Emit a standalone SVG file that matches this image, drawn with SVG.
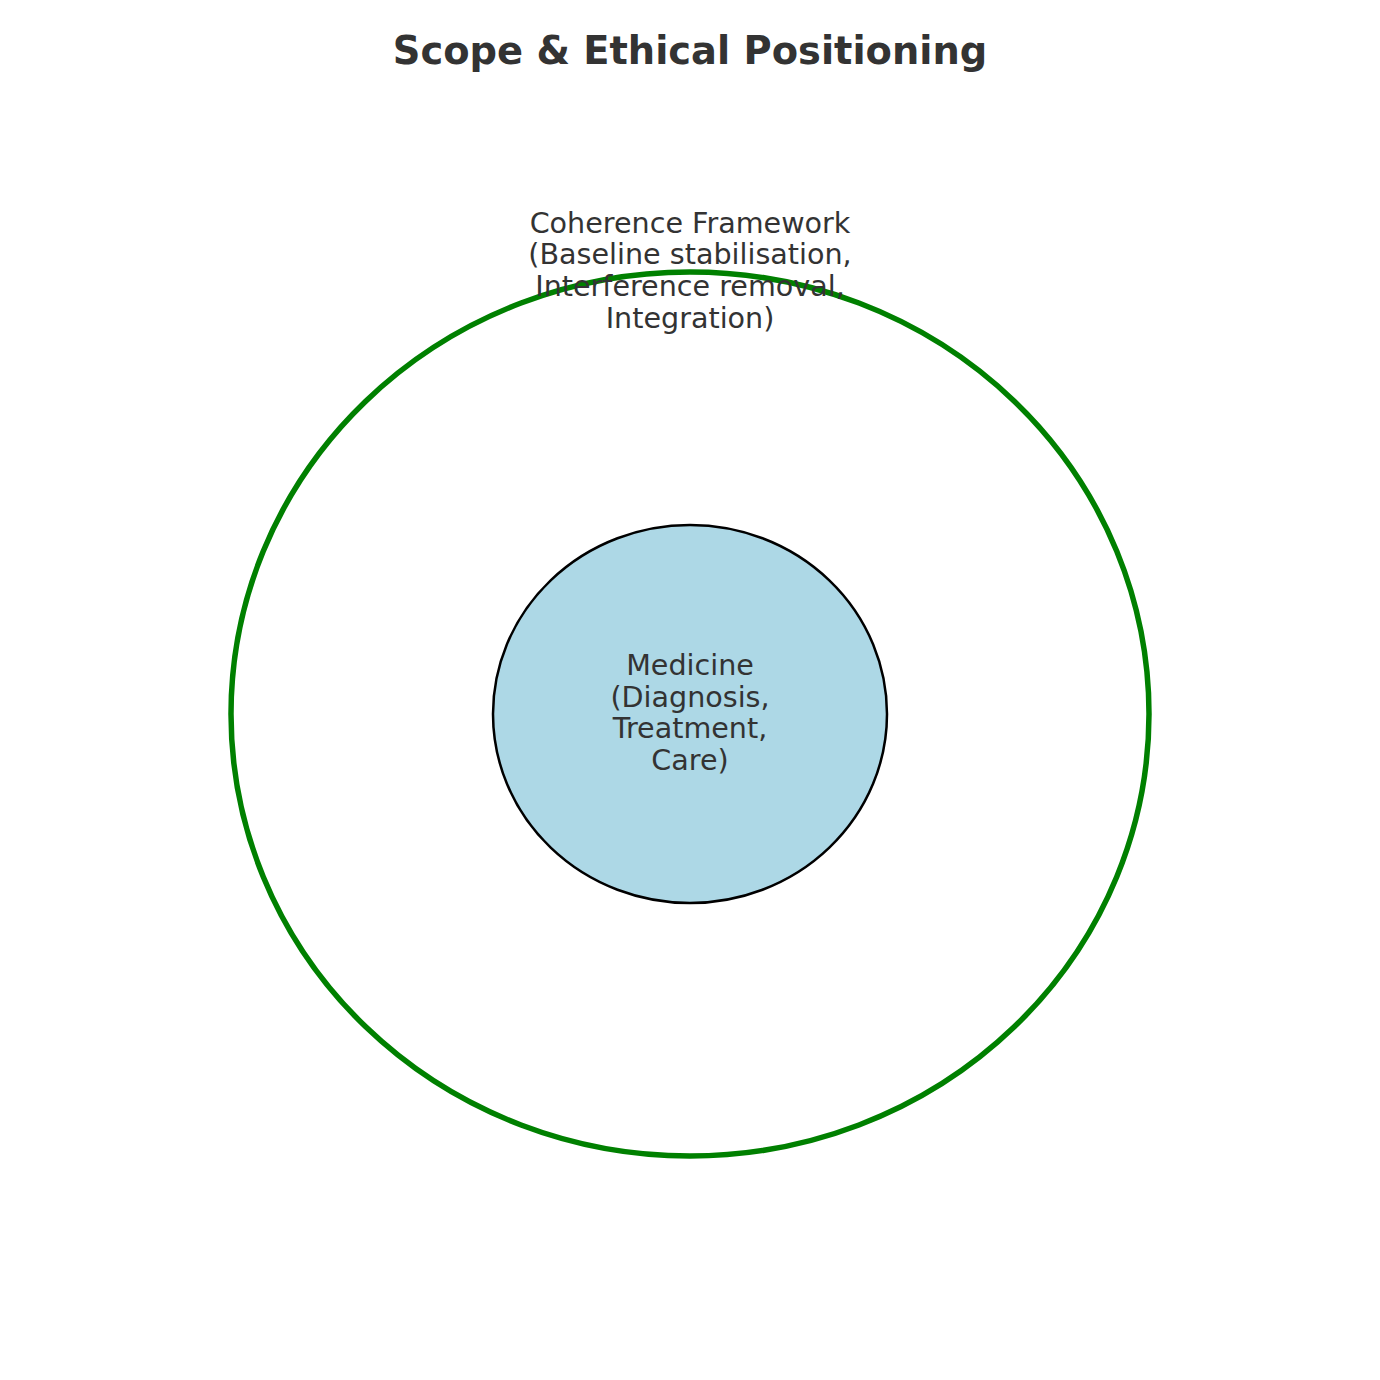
<svg xmlns="http://www.w3.org/2000/svg" width="1380" height="1380" viewBox="0 0 1380 1380">
<style>
text{font-family:"DejaVu Sans","Liberation Sans",sans-serif;fill:#333333;text-anchor:middle}
.t{font-size:38.4px;font-weight:bold}
.l{font-size:28.6px}
</style>
<rect width="1380" height="1380" fill="#ffffff"/>
<text class="t" x="690" y="64">Scope &amp; Ethical Positioning</text>
<g id="coherence">
<ellipse cx="690" cy="714" rx="459" ry="442" fill="none" stroke="#008000" stroke-width="5.5"/>
<text class="l" x="690"><tspan x="690" y="232.5">Coherence Framework</tspan><tspan x="690" y="264">(Baseline stabilisation,</tspan><tspan x="690" y="296">Interference removal,</tspan><tspan x="690" y="327.5">Integration)</tspan></text>
</g>
<g id="medicine">
<ellipse cx="690" cy="714" rx="197" ry="189" fill="#ADD8E6" stroke="#000000" stroke-width="2.5"/>
<text class="l"><tspan x="690" y="675">Medicine</tspan><tspan x="690" y="706.5">(Diagnosis,</tspan><tspan x="690" y="738">Treatment,</tspan><tspan x="690" y="770">Care)</tspan></text>
</g>
<g id="connectors"/>
</svg>
